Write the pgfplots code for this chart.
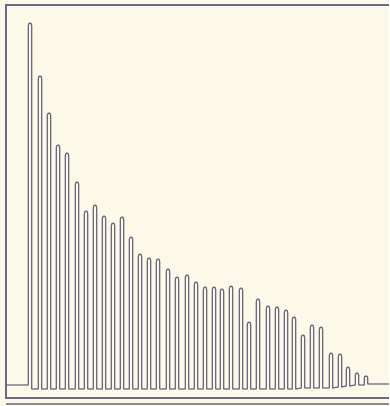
\documentclass[border=0pt]{standalone}
\usepackage{pgfplots}
\pgfplotsset{compat=1.18}
\definecolor{paper}{RGB}{252,249,232}
\definecolor{ink}{RGB}{108,106,130}
\definecolor{inklight}{RGB}{140,138,155}
\begin{document}
\begin{tikzpicture}
\begin{axis}[
  scale only axis, width=389pt, height=406pt,
  xmin=0, xmax=389, ymin=0, ymax=406, y dir=reverse,
  axis line style={draw=none}, ticks=none,
  axis background/.style={fill=paper},
]
% frame of the record
\addplot[ink, line width=1.3pt] coordinates {(389,5) (6,5) (6,398) (389,398)};
\addplot[inklight, line width=1.2pt] coordinates {(6,404) (389,404)};
% kymograph trace: baseline, then one pulse per contraction
\addplot[ink, line width=1.25pt, line join=round] coordinates {
(6,385) (28.2,385)
(28.2,26) (28.8,23.8) (30,23) (31.2,23.8) (31.8,26) (31.8,389)
(38.2,389) (38.2,79) (38.8,76.8) (40,76) (41.2,76.8) (41.8,79) (41.8,389)
(47.2,389) (47.2,116) (47.8,113.8) (49,113) (50.2,113.8) (50.8,116) (50.8,389)
(56.2,389) (56.2,148) (56.8,145.8) (58,145) (59.2,145.8) (59.8,148) (59.8,389)
(65.2,389) (65.2,156) (65.8,153.8) (67,153) (68.2,153.8) (68.8,156) (68.8,389)
(75.2,389) (75.2,185) (75.8,182.8) (77,182) (78.2,182.8) (78.8,185) (78.8,389)
(84.2,389) (84.2,214) (84.8,211.8) (86,211) (87.2,211.8) (87.8,214) (87.8,389)
(93.2,389) (93.2,208) (93.8,205.8) (95,205) (96.2,205.8) (96.8,208) (96.8,389)
(102.2,389) (102.2,219) (102.8,216.8) (104,216) (105.2,216.8) (105.8,219) (105.8,389)
(111.2,389) (111.2,226) (111.8,223.8) (113,223) (114.2,223.8) (114.8,226) (114.8,389)
(120.2,389) (120.2,220) (120.8,217.8) (122,217) (123.2,217.8) (123.8,220) (123.8,389)
(129.2,389) (129.2,240) (129.8,237.8) (131,237) (132.2,237.8) (132.8,240) (132.8,389)
(138.2,389) (138.2,257) (138.8,254.8) (140,254) (141.2,254.8) (141.8,257) (141.8,389)
(147.2,389) (147.2,261) (147.8,258.8) (149,258) (150.2,258.8) (150.8,261) (150.8,389)
(156.2,389) (156.2,262) (156.8,259.8) (158,259) (159.2,259.8) (159.8,262) (159.8,389)
(166.2,389) (166.2,272) (166.8,269.8) (168,269) (169.2,269.8) (169.8,272) (169.8,389)
(175.2,389) (175.2,280) (175.8,277.8) (177,277) (178.2,277.8) (178.8,280) (178.8,389)
(185.2,389) (185.2,278) (185.8,275.8) (187,275) (188.2,275.8) (188.8,278) (188.8,389)
(194.2,389) (194.2,285) (194.8,282.8) (196,282) (197.2,282.8) (197.8,285) (197.8,389)
(203.2,389) (203.2,290) (203.8,287.8) (205,287) (206.2,287.8) (206.8,290) (206.8,389)
(212.2,389) (212.2,290) (212.8,287.8) (214,287) (215.2,287.8) (215.8,290) (215.8,389)
(220.2,389) (220.2,292) (220.8,289.8) (222,289) (223.2,289.8) (223.8,292) (223.8,389)
(229.2,389) (229.2,289) (229.8,286.8) (231,286) (232.2,286.8) (232.8,289) (232.8,389)
(239.2,389) (239.2,291) (239.8,288.8) (241,288) (242.2,288.8) (242.8,291) (242.8,389)
(247.2,389) (247.2,325) (247.8,322.8) (249,322) (250.2,322.8) (250.8,325) (250.8,389)
(256.2,389) (256.2,302) (256.8,299.8) (258,299) (259.2,299.8) (259.8,302) (259.8,389)
(266.2,389) (266.2,309) (266.8,306.8) (268,306) (269.2,306.8) (269.8,309) (269.8,389)
(275.2,389) (275.2,310) (275.8,307.8) (277,307) (278.2,307.8) (278.8,310) (278.8,389)
(284.2,389) (284.2,313) (284.8,310.8) (286,310) (287.2,310.8) (287.8,313) (287.8,389)
(292.2,389) (292.2,320) (292.8,317.8) (294,317) (295.2,317.8) (295.8,320) (295.8,389)
(301.2,388) (301.2,338) (301.8,335.8) (303,335) (304.2,335.8) (304.8,338) (304.8,388)
(310.2,388) (310.2,328) (310.8,325.8) (312,325) (313.2,325.8) (313.8,328) (313.8,388)
(319.2,388) (319.2,330) (319.8,327.8) (321,327) (322.2,327.8) (322.8,330) (322.8,388)
(329.2,388) (329.2,356) (329.8,353.8) (331,353) (332.2,353.8) (332.8,356) (332.8,388)
(338.2,387) (338.2,357) (338.8,354.8) (340,354) (341.2,354.8) (341.8,357) (341.8,387)
(346.2,386) (346.2,370) (346.8,367.8) (348,367) (349.2,367.8) (349.8,370) (349.8,386)
(355.2,385) (355.2,375.5) (355.8,373.6) (357,373) (358.2,373.6) (358.8,375.5) (358.8,385)
(364.2,385) (364.2,378) (364.8,376.5) (366,376) (367.2,376.5) (367.8,378) (367.8,384)
(370,384) (389,384)
};
\end{axis}
\end{tikzpicture}
\end{document}
